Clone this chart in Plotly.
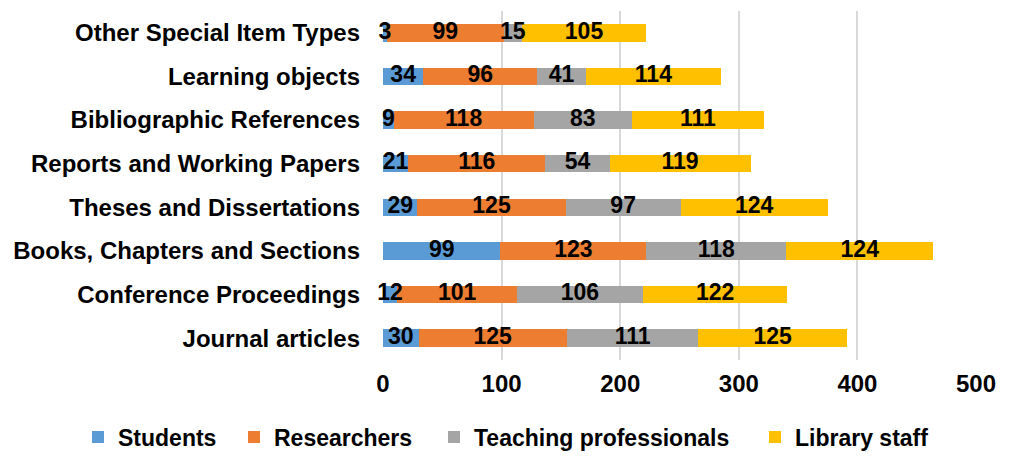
import plotly.graph_objects as go

categories = ["Journal articles", "Conference Proceedings", "Books, Chapters and Sections",
              "Theses and Dissertations", "Reports and Working Papers",
              "Bibliographic References", "Learning objects", "Other Special Item Types"]
students = [30, 12, 99, 29, 21, 9, 34, 3]
researchers = [125, 101, 123, 125, 116, 118, 96, 99]
teaching = [111, 106, 118, 97, 54, 83, 41, 15]
library = [125, 122, 124, 124, 119, 111, 114, 105]

series = [("Students", students, "#5B9BD5", "legend", 70),
          ("Researchers", researchers, "#ED7D31", "legend2", 226),
          ("Teaching professionals", teaching, "#A5A5A5", "legend3", 426),
          ("Library staff", library, "#FFC000", "legend4", 747)]

FONT = "Liberation Sans, Arial, sans-serif"
W, H = 1012, 460
fig = go.Figure()
legends = {}
for name, vals, color, lg, lx in series:
    fig.add_trace(go.Bar(
        y=categories, x=vals, name=name, orientation="h",
        marker=dict(color=color, line=dict(width=0)),
        legend=lg, hoverinfo="x+name",
    ))
    legends[lg] = dict(orientation="h", xref="container", yref="container",
                       x=lx / W, xanchor="left", y=1 - 429 / H, yanchor="middle",
                       bgcolor="rgba(0,0,0,0)", borderwidth=0,
                       font=dict(family=FONT, size=23, color="black", weight="bold"))

# data labels drawn on top of all bars, centred in each stacked segment
base = [0] * len(categories)
for name, vals, color, lg, lx in series:
    mids = [b + v / 2 for b, v in zip(base, vals)]
    fig.add_trace(go.Scatter(
        y=categories, x=mids, mode="text", text=[str(v) for v in vals],
        textposition="middle center", showlegend=False, hoverinfo="skip",
        textfont=dict(family=FONT, size=23, color="black", weight="bold"),
        cliponaxis=False,
    ))
    base = [b + v for b, v in zip(base, vals)]

fig.update_layout(
    barmode="stack", bargap=0.6,
    width=W, height=H,
    margin=dict(l=375, r=44, t=3, b=108, autoexpand=False),
    plot_bgcolor="white", paper_bgcolor="white",
    font=dict(family=FONT, size=23, color="black", weight="bold"),
    xaxis=dict(range=[0, 500], dtick=100, showgrid=True, gridcolor="#D9D9D9",
               gridwidth=1.5, zeroline=False, ticks="", showline=False, automargin=False,
               ticklabelstandoff=7,
               tickfont=dict(family=FONT, size=24, color="black", weight="bold")),
    yaxis=dict(showgrid=False, ticks="", showline=False, automargin=False,
               ticklabelstandoff=22,
               tickfont=dict(family=FONT, size=24, color="black", weight="bold")),
    showlegend=True,
    **legends,
)
fig.write_html("out.html")
